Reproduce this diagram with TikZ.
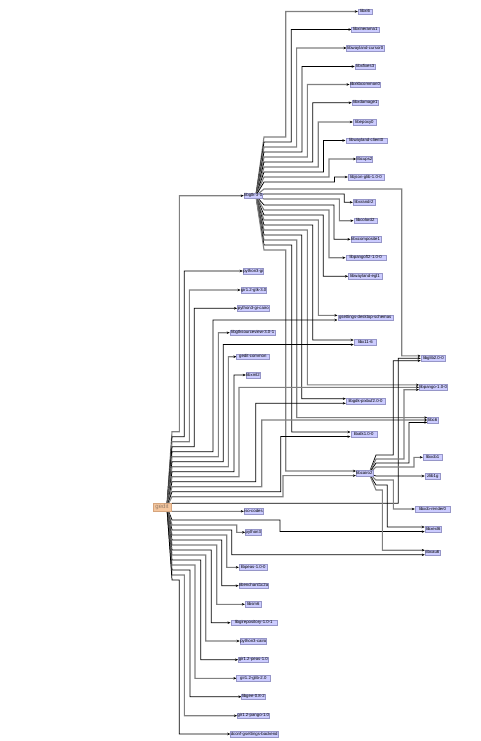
\documentclass[tikz,border=0pt]{standalone}
\usepackage{fontspec}
\setmainfont{Liberation Sans}
\usetikzlibrary{arrows.meta}
\definecolor{pkgfill}{RGB}{204,204,255}
\definecolor{pkgline}{RGB}{150,150,200}
\definecolor{rootfill}{RGB}{244,198,158}
\definecolor{rootline}{RGB}{214,165,125}
\definecolor{roottext}{RGB}{150,125,105}
\definecolor{edgegray}{RGB}{128,128,128}
\pgfdeclarelayer{bg}
\pgfsetlayers{bg,main}
\tikzset{
  pkg/.style={draw=pkgline, fill=pkgfill, line width=0.4pt, minimum height=5.5pt,
    inner sep=0.3pt, text height=3.2pt, text depth=0.9pt, font=\fontsize{4.3}{5}\selectfont},
  rootpkg/.style={draw=rootline, fill=rootfill, line width=0.4pt, minimum height=8pt,
    minimum width=17.4pt, inner sep=0.3pt, text=roottext, font=\fontsize{6}{7}\selectfont},
  ea/.style={draw=black, line width=0.75pt, -{Stealth[length=3pt,width=2.5pt,color=black]}},
  eb/.style={draw=edgegray, line width=1.1pt, -{Stealth[length=3pt,width=2.5pt,color=black]}},
}
\begin{document}
\begin{tikzpicture}[x=1pt,y=-1pt]
\useasboundingbox (0,0) rectangle (481,741);

% root and hubs
\node[rootpkg] (gedit) at (162,506.7) {gedit};
\node[pkg,minimum width=18.7pt] (hub) at (253.3,195.7) {libgtk-3-0};
\node[pkg,minimum width=15.6pt] (G) at (364.5,473.3) {libcairo2};

% top column
\node[pkg,minimum width=14pt] (t1) at (365,11.5) {libxi6};
\node[pkg,minimum width=27.3pt] (t2) at (365.3,29.5) {libxinerama1};
\node[pkg,minimum width=37.3pt] (t3) at (365.3,48) {libwayland-cursor0};
\node[pkg,minimum width=20.7pt] (t4) at (365.3,66.5) {libxfixes3};
\node[pkg,minimum width=28pt] (t5) at (365,84.5) {libxkbcommon0};
\node[pkg,minimum width=26.7pt] (t6) at (365.3,102.7) {libxdamage1};
\node[pkg,minimum width=23pt] (t7) at (364.5,122) {libepoxy0};
\node[pkg,minimum width=41pt] (t8) at (366.2,140.5) {libwayland-client0};
\node[pkg,minimum width=15pt] (t9) at (364.5,159) {libcups2};
\node[pkg,minimum width=36pt] (t10) at (366,177) {libjson-glib-1.0-0};
\node[pkg,minimum width=22pt] (n11) at (364,202.3) {libxrandr2};
\node[pkg,minimum width=23pt] (n12) at (365.2,220.7) {libcolord2};
\node[pkg,minimum width=30pt] (n13) at (365.7,239.3) {libxcomposite1};
\node[pkg,minimum width=40pt] (n14) at (365.7,257.7) {libpangoft2-1.0-0};
\node[pkg,minimum width=33.4pt] (n15) at (365,276.3) {libwayland-egl1};
\node[pkg,minimum width=55pt] (long) at (365.2,317.7) {gsettings-desktop-schemas};
\node[pkg,minimum width=22.7pt] (A) at (365.3,342.3) {libx11-6};
\node[pkg,minimum width=39pt] (D) at (365.5,401) {libgdk-pixbuf2.0-0};
\node[pkg,minimum width=26pt] (F) at (363.7,434.3) {libatk1.0-0};

% right column
\node[pkg,minimum width=24.7pt] (B) at (433.3,358.3) {libglib2.0-0};
\node[pkg,minimum width=24.7pt] (C) at (433.3,387.3) {libpango-1.0-0};
\node[pkg,minimum width=10.6pt] (E) at (432.8,420) {libc6};
\node[pkg,minimum width=19pt] (H) at (432.5,457.3) {libxcb1};
\node[pkg,minimum width=15.7pt] (I) at (432.8,476) {zlib1g};
\node[pkg,minimum width=35pt] (J) at (432.5,509) {libxcb-render0};
\node[pkg,minimum width=16.7pt] (K) at (433.3,529.3) {libxext6};
\node[pkg,minimum width=15pt] (L) at (432.5,552.5) {libxau6};

% middle column
\node[pkg,minimum width=20pt] (Q) at (253.3,271) {python3-gi};
\node[pkg,minimum width=24pt] (R) at (253.7,290) {gir1.2-gtk-3.0};
\node[pkg,minimum width=32pt] (S) at (253.3,308.3) {python3-gi-cairo};
\node[pkg,minimum width=45.7pt] (T) at (252.8,332.7) {libgtksourceview-3.0-1};
\node[pkg,minimum width=32.3pt] (M) at (252.8,356.7) {gedit-common};
\node[pkg,minimum width=14pt] (N) at (253,375) {libxml2};
\node[pkg,minimum width=17pt] (O) at (253.5,511.3) {iso-codes};
\node[pkg,minimum width=14.7pt] (P) at (253.3,532.3) {python3};
\node[pkg,minimum width=28.3pt] (U) at (253.2,567.3) {libpeas-1.0-0};
\node[pkg,minimum width=29.3pt] (V) at (253.7,585.7) {libenchant1c2a};
\node[pkg,minimum width=16.3pt] (W) at (253.2,604.3) {libsm6};
\node[pkg,minimum width=46pt] (X) at (253.7,622.7) {libgirepository-1.0-1};
\node[pkg,minimum width=26.7pt] (Y) at (253.3,641) {python3-cairo};
\node[pkg,minimum width=30pt] (Z) at (253.3,659.7) {gir1.2-peas-1.0};
\node[pkg,minimum width=33.3pt] (AA) at (253.3,678.3) {gir1.2-glib-2.0};
\node[pkg,minimum width=20pt] (AB) at (253.3,696.7) {libgee-0.8-2};
\node[pkg,minimum width=31.3pt] (AC) at (253.3,715.7) {gir1.2-pango-1.0};
\node[pkg,minimum width=45pt] (AD) at (254.2,734) {dconf-gsettings-backend};

\begin{pgfonlayer}{bg}
\fill[white] (0,0) rectangle (481,741);
% ---- edges from hub
\draw[eb] ([xshift=-7pt]hub.east) -- (264,137) -- (285.7,137) |- (t1.west);
\draw[ea] ([xshift=-7pt]hub.east) -- (264,142) -- (291.2,142) |- (t2.west);
\draw[eb] ([xshift=-7pt]hub.east) -- (264,147) -- (296.6,147) |- (t3.west);
\draw[ea] ([xshift=-7pt]hub.east) -- (264,152) -- (302,152) |- (t4.west);
\draw[eb] ([xshift=-7pt]hub.east) -- (264,157) -- (307.4,157) |- (t5.west);
\draw[ea] ([xshift=-7pt]hub.east) -- (264,162) -- (312.8,162) |- (t6.west);
\draw[eb] ([xshift=-7pt]hub.east) -- (264,167) -- (318.2,167) |- (t7.west);
\draw[ea] ([xshift=-7pt]hub.east) -- (264,172) -- (323.6,172) |- (t8.west);
\draw[eb] ([xshift=-7pt]hub.east) -- (264,177) -- (329,177) |- (t9.west);
\draw[ea] ([xshift=-7pt]hub.east) -- (264,182) -- (334.4,182) |- (t10.west);
\draw[eb] ([xshift=-7pt]hub.east) -- (264,189) -- (401.7,189) |- ([yshift=2.4pt]B.west);
\draw[ea] ([xshift=-7pt]hub.east) -- (264,194) -- (344.3,194) |- (n11.west);
\draw[eb] ([xshift=-7pt]hub.east) -- (264,199) -- (339.3,199) |- (n12.west);
\draw[ea] ([xshift=-7pt]hub.east) -- (264,205) -- (334,205) |- (n13.west);
\draw[eb] ([xshift=-7pt]hub.east) -- (264,210) -- (329,210) |- (n14.west);
\draw[ea] ([xshift=-7pt]hub.east) -- (264,215) -- (323.3,215) |- (n15.west);
\draw[eb] ([xshift=-7pt]hub.east) -- (264,220) -- (318.3,220) |- ([yshift=2.3pt]long.west);
\draw[ea] ([xshift=-7pt]hub.east) -- (264,225) -- (312.7,225) |- ([yshift=2.3pt]A.west);
\draw[eb] ([xshift=-7pt]hub.east) -- (264,230) -- (307.3,230) |- ([yshift=2.4pt]C.west);
\draw[ea] ([xshift=-7pt]hub.east) -- (264,235) -- (301.7,235) |- ([yshift=2.3pt]D.west);
\draw[eb] ([xshift=-7pt]hub.east) -- (264,240) -- (296.7,240) |- ([yshift=2.4pt]E.west);
\draw[ea] ([xshift=-7pt]hub.east) -- (264,245) -- (291.7,245) |- ([yshift=2.3pt]F.west);
\draw[eb] ([xshift=-7pt]hub.east) -- (264,250) -- (285.7,250) |- ([yshift=2.3pt]G.west);

% ---- edges from gedit, upward
\draw[eb] ([xshift=-4pt]gedit.east) -- (172,431.7) -- (179.3,431.7) |- (hub.west);
\draw[ea] ([xshift=-4pt]gedit.east) -- (172,436.7) -- (184.3,436.7) |- (Q.west);
\draw[eb] ([xshift=-4pt]gedit.east) -- (172,441.7) -- (189.3,441.7) |- (R.west);
\draw[ea] ([xshift=-4pt]gedit.east) -- (172,446.7) -- (194.3,446.7) |- (S.west);
\draw[ea] ([xshift=-4pt]gedit.east) -- (172,451.7) -- (213,451.7) |- ([yshift=-2.3pt]long.west);
\draw[eb] ([xshift=-4pt]gedit.east) -- (172,456.7) -- (218.3,456.7) |- (T.west);
\draw[ea] ([xshift=-4pt]gedit.east) -- (172,461.7) -- (223.3,461.7) |- ([yshift=-2.3pt]A.west);
\draw[eb] ([xshift=-4pt]gedit.east) -- (172,466.7) -- (228.3,466.7) |- (M.west);
\draw[ea] ([xshift=-4pt]gedit.east) -- (172,471.7) -- (234,471.7) |- (N.west);
\draw[eb] ([xshift=-4pt]gedit.east) -- (172,476.7) -- (239,476.7) |- (C.west);
\draw[ea] ([xshift=-4pt]gedit.east) -- (172,481.7) -- (255.7,481.7) |- ([yshift=-2.3pt]D.west);
\draw[eb] ([xshift=-4pt]gedit.east) -- (172,486.7) -- (261.7,486.7) |- (E.west);
\draw[ea] ([xshift=-4pt]gedit.east) -- (172,491.7) -- (280.7,491.7) |- ([yshift=-2.3pt]F.west);
\draw[eb] ([xshift=-4pt]gedit.east) -- (172,496.7) -- (283,496.7) |- ([yshift=-2.3pt]G.west);
\draw[ea] ([xshift=-4pt]gedit.east) -- (172,503.3) -- (398.3,503.3) |- (B.west);
% ---- edges from gedit, downward
\draw[eb] ([xshift=-4pt]gedit.east) -- (172,511.3) -- (O.west);
\draw[ea] ([xshift=-4pt]gedit.east) -- (172,520) -- (280,520) |- ([yshift=-2.3pt]K.west);
\draw[eb] ([xshift=-4pt]gedit.east) -- (172,525) -- (236.7,525) |- (P.west);
\draw[ea] ([xshift=-4pt]gedit.east) -- (172,530) -- (231.7,530) |- ([yshift=-2.3pt]L.west);
\draw[eb] ([xshift=-4pt]gedit.east) -- (172,535) -- (226.7,535) |- (U.west);
\draw[ea] ([xshift=-4pt]gedit.east) -- (172,540) -- (221.7,540) |- (V.west);
\draw[eb] ([xshift=-4pt]gedit.east) -- (172,545) -- (216.7,545) |- (W.west);
\draw[ea] ([xshift=-4pt]gedit.east) -- (172,550) -- (211.3,550) |- (X.west);
\draw[eb] ([xshift=-4pt]gedit.east) -- (172,555) -- (205.7,555) |- (Y.west);
\draw[ea] ([xshift=-4pt]gedit.east) -- (172,560) -- (200.7,560) |- (Z.west);
\draw[eb] ([xshift=-4pt]gedit.east) -- (172,565) -- (195,565) |- (AA.west);
\draw[ea] ([xshift=-4pt]gedit.east) -- (172,570) -- (190,570) |- (AB.west);
\draw[eb] ([xshift=-4pt]gedit.east) -- (172,575) -- (184.3,575) |- (AC.west);
\draw[ea] ([xshift=-4pt]gedit.east) -- (172,580) -- (179.3,580) |- (AD.west);

% ---- edges from G
\draw[ea] ([xshift=-4pt]G.east) -- (376,455) -- (393.3,455) |- ([yshift=-2.4pt]B.west);
\draw[eb] ([xshift=-4pt]G.east) -- (376,459) -- (404,459) |- ([yshift=-2.4pt]C.west);
\draw[ea] ([xshift=-4pt]G.east) -- (376,463) -- (409,463) |- ([yshift=-2.4pt]E.west);
\draw[eb] ([xshift=-4pt]G.east) -- (376,467) -- (414,467) |- (H.west);
\draw[ea] ([xshift=-4pt]G.east) -- (376,476) -- (I.west);
\draw[eb] ([xshift=-4pt]G.east) -- (376,480) -- (393.3,480) |- (J.west);
\draw[ea] ([xshift=-4pt]G.east) -- (376,485) -- (387.3,485) |- ([yshift=2.3pt]K.west);
\draw[eb] ([xshift=-4pt]G.east) -- (376,490) -- (382.3,490) |- ([yshift=2.3pt]L.west);
\end{pgfonlayer}
\end{tikzpicture}
\end{document}
